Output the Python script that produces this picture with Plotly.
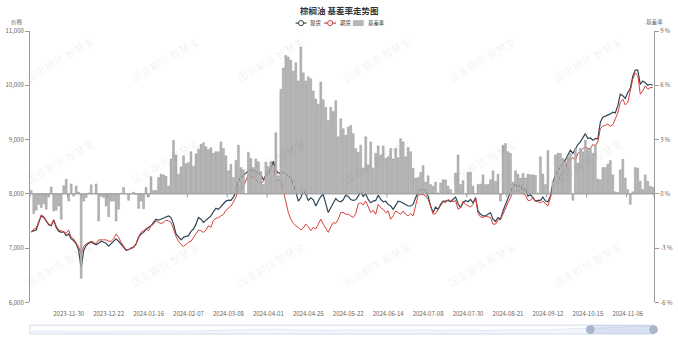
import pandas as pd
import plotly.graph_objects as go

# ---------------- data ----------------
# weekday exchange closures inside the period
closures = ["2024-01-01", "2024-02-09", "2024-02-12", "2024-02-13", "2024-02-14",
            "2024-02-15", "2024-02-16", "2024-04-04", "2024-04-05", "2024-05-01",
            "2024-05-02", "2024-05-03", "2024-06-10", "2024-09-16", "2024-09-17",
            "2024-10-01", "2024-10-02", "2024-10-03", "2024-10-04", "2024-10-07"]
dates = pd.bdate_range("2023-11-09", "2024-11-20", freq="C",
                       holidays=closures).strftime("%Y-%m-%d").tolist()

tick_labels = ["2023-11-30", "2023-12-22", "2024-01-16", "2024-02-07", "2024-03-08",
               "2024-04-01", "2024-04-25", "2024-05-22", "2024-06-14", "2024-07-08",
               "2024-07-30", "2024-08-21", "2024-09-12", "2024-10-15", "2024-11-06"]

# 现货 (spot price)
spot = [
    7303, 7321, 7333, 7473, 7594, 7564, 7490, 7430, 7412, 7515,
    7382, 7309, 7290, 7303, 7230, 7261, 7170, 7140, 7079, 6958,
    6624, 6958, 7048, 7091, 7109, 7079, 7061, 7091, 7127, 7109,
    7091, 7036, 7079, 7127, 7170, 7127, 7079, 7018, 6958, 6970,
    7000, 7018, 7079, 7200, 7261, 7290, 7352, 7382, 7412, 7473,
    7533, 7515, 7533, 7564, 7576, 7594, 7564, 7442, 7261, 7200,
    7152, 7200, 7212, 7230, 7309, 7352, 7442, 7564, 7533, 7473,
    7515, 7564, 7594, 7673, 7733, 7715, 7776, 7818, 7867, 7885,
    7879, 7939, 8048, 8230, 8303, 8352, 8382, 8424, 8442, 8436,
    8412, 8382, 8352, 8261, 8352, 8424, 8461, 8600, 8442, 8382,
    8382, 8400, 8364, 8339, 8291, 8170, 8036, 7867, 7927, 8061,
    7988, 7879, 7927, 7891, 7776, 7867, 7952, 7988, 7818, 7655,
    7745, 7836, 7915, 7867, 7855, 7891, 7976, 7952, 7897, 7879,
    7891, 7958, 8036, 7952, 8000, 7897, 7836, 7867, 7879, 7976,
    7897, 7855, 7867, 7806, 7776, 7715, 7806, 7867, 7855, 7830,
    7806, 7776, 7776, 7806, 7927, 8036, 8079, 8079, 8048, 7958,
    7776, 7655, 7758, 7715, 7806, 7867, 7867, 7879, 7855, 7897,
    7939, 7818, 7745, 7836, 7879, 7855, 7897, 7836, 7927, 7685,
    7624, 7594, 7594, 7624, 7655, 7533, 7491, 7564, 7533, 7685,
    7806, 7939, 8036, 8139, 8182, 8109, 8170, 8036, 8109, 7958,
    7988, 7927, 7867, 7879, 7879, 7939, 7867, 7855, 7958, 8200,
    8352, 8424, 8503, 8564, 8624, 8715, 8806, 8745, 8836, 8909,
    8958, 9048, 9109, 9018, 9030, 8988, 9018, 9018, 9321, 9412,
    9430, 9455, 9473, 9503, 9491, 9624, 9836, 9806, 9758, 9867,
    9939, 10170, 10279, 10279, 10018, 10079, 10048, 10000, 10018, 10000,
]

# 期货 (futures price)
futures = [
    7290, 7350, 7370, 7485, 7612, 7582, 7503, 7442, 7424, 7527,
    7412, 7333, 7321, 7303, 7273, 7333, 7200, 7170, 7091, 7018,
    6897, 7030, 7079, 7109, 7127, 7109, 7079, 7152, 7158, 7152,
    7152, 7127, 7127, 7170, 7261, 7200, 7109, 7048, 6970, 6976,
    7000, 7006, 7079, 7212, 7290, 7321, 7352, 7321, 7412, 7442,
    7503, 7473, 7455, 7473, 7515, 7503, 7473, 7352, 7212, 7127,
    7067, 7030, 7067, 7109, 7127, 7200, 7261, 7333, 7321, 7290,
    7333, 7412, 7382, 7515, 7552, 7564, 7594, 7624, 7697, 7745,
    7776, 7848, 7939, 8100, 8079, 8139, 8230, 8352, 8303, 8321,
    8279, 8218, 8182, 8230, 8339, 8339, 8500, 8560, 8250, 8242,
    8255, 8048, 7806, 7655, 7533, 7455, 7412, 7382, 7333, 7370,
    7442, 7394, 7321, 7382, 7352, 7430, 7533, 7442, 7352, 7290,
    7394, 7473, 7455, 7533, 7655, 7655, 7624, 7624, 7594, 7564,
    7636, 7818, 7836, 7794, 7867, 7745, 7655, 7697, 7624, 7806,
    7745, 7715, 7655, 7685, 7533, 7594, 7685, 7655, 7624, 7685,
    7624, 7594, 7636, 7594, 7776, 7976, 7988, 7988, 7958, 7897,
    7776, 7624, 7636, 7715, 7794, 7855, 7836, 7897, 7867, 7855,
    7879, 7715, 7745, 7867, 7806, 7776, 7758, 7806, 7939, 7636,
    7576, 7564, 7594, 7576, 7564, 7442, 7442, 7515, 7533, 7624,
    7745, 7836, 7927, 8048, 8036, 8079, 8036, 8000, 7976, 7879,
    7879, 7939, 7867, 7855, 7836, 7867, 7818, 7776, 7927, 8139,
    8182, 8230, 8321, 8400, 8442, 8624, 8624, 8667, 8624, 8745,
    8776, 8836, 8867, 8836, 8836, 8909, 8885, 8958, 9200, 9248,
    9261, 9285, 9248, 9273, 9382, 9491, 9685, 9745, 9636, 9685,
    9897, 10109, 10230, 10182, 9836, 9897, 9988, 9927, 9958, 9958,
]

# 基差率 (basis rate, %)
basis = [
    0.18, -1.09, -0.90, -0.58, -0.76, -0.55, -0.85, -0.18, 0.38, -0.95,
    -0.90, -0.67, -1.40, 0.45, 0.80, -0.40, 0.55, -0.13, 0.44, 0.10,
    -4.67, -0.40, -0.20, 0.05, 0.50, 0.00, 0.55, -1.50, -0.13, -0.20,
    -0.67, -1.27, -0.40, -0.40, -1.50, -0.85, 0.04, 0.36, 0.00, -0.36,
    0.00, 0.10, -0.04, -0.80, -0.40, -0.82, 0.36, -0.18, 0.95, 0.18,
    0.18, 0.90, 1.09, 1.05, 0.96, 0.44, 1.93, 2.95, 2.15, 1.09,
    1.50, 2.10, 1.67, 1.73, 2.33, 1.53, 2.22, 2.47, 2.73, 2.82,
    2.60, 2.45, 2.55, 2.24, 2.33, 2.33, 2.87, 2.50, 2.10, 1.27,
    1.64, 0.90, 1.85, 2.69, 1.45, 1.33, 0.00, 2.29, 1.96, 1.45,
    1.93, 1.78, 1.24, 0.51, 1.75, 1.51, 1.78, 1.60, 3.38, 1.00,
    5.78, 6.96, 7.64, 7.56, 7.38, 6.78, 7.24, 6.24, 8.11, 6.69,
    6.24, 6.47, 6.36, 5.69, 5.24, 4.96, 6.18, 5.20, 4.78, 4.05,
    4.78, 4.55, 5.15, 3.15, 4.15, 3.60, 3.24, 3.69, 3.78, 3.33,
    2.51, 2.29, 2.69, 1.42, 3.15, 1.60, 2.87, 1.42, 2.24, 2.65,
    2.15, 2.65, 1.96, 2.05, 2.51, 1.93, 2.51, 2.00, 3.05, 2.87,
    2.05, 2.55, 2.33, 1.42, 0.87, 0.91, 1.18, 1.56, 0.65, 1.00,
    0.51, 0.42, 0.65, 0.05, 0.60, 0.78, 0.78, 0.42, 0.24, 0.00,
    1.15, 2.15, 0.51, 0.73, 0.00, 1.20, 1.20, 0.42, 0.02, 0.51,
    0.55, 1.05, 0.51, 0.51, 0.78, 1.27, 0.69, 1.09, -0.40, 2.69,
    2.78, 2.33, 2.24, 0.65, 1.27, 1.09, 0.87, 1.13, 0.87, 1.09,
    1.05, 1.05, 1.02, 0.05, 2.05, 1.09, 0.51, 2.40, 0.05, 0.69,
    2.15, 2.24, 2.24, 1.96, 1.78, 2.05, 2.24, -0.36, 2.51, 1.69,
    2.51, 2.33, 2.96, 2.51, 2.51, 2.24, 2.69, 0.82, 0.78, 1.45,
    1.45, 1.64, 1.84, 1.05, 0.11, 0.07, 1.33, 1.91, 0.87, 0.24,
    -0.58, 0.11, 1.45, 1.42, 0.69, 0.24, 1.05, 0.69, 0.42, 0.36,
]

# ---------------- geometry helpers ----------------
W, H = 678, 343
ML, MR, MT, MB = 26, 20, 31, 5
PW, PH = W - ML - MR, H - MT - MB


def px(x):
    return (x - ML) / PW


def py(y):
    return (H - MB - y) / PH


FONT = "Noto Sans CJK SC, sans-serif"
SPOT_C = "#2f4554"
FUT_C = "#d8403a"
BAR_C = "#b6b6b6"
AXIS_C = "#9a9a9a"
TXT_C = "#666666"

n = len(dates)

fig = go.Figure()

fig.add_trace(go.Bar(
    x=dates, y=basis, yaxis="y2", name="基差率",
    marker=dict(color=BAR_C, line=dict(color="#8e8e8e", width=0.4)),
))
fig.add_trace(go.Scatter(
    x=dates, y=spot, mode="lines", name="现货",
    line=dict(color=SPOT_C, width=1.2),
))
fig.add_trace(go.Scatter(
    x=dates, y=futures, mode="lines", name="期货",
    line=dict(color=FUT_C, width=1.0),
))
# data shadow inside the zoom slider
fig.add_trace(go.Scatter(
    x=list(range(n)), y=spot, mode="lines", xaxis="x3", yaxis="y3",
    line=dict(color="#d2dbee", width=0.6), fill="tozeroy",
    fillcolor="rgba(210,219,238,0.25)",
))

main_dom = [py(306), 1.0]

fig.update_layout(
    width=W, height=H,
    margin=dict(l=ML, r=MR, t=MT, b=MB),
    paper_bgcolor="white", plot_bgcolor="rgba(0,0,0,0)",
    showlegend=False, hovermode=False,
    font=dict(family=FONT, size=6, color=TXT_C),
    bargap=0.22,
    xaxis=dict(
        type="category", range=[-0.5, n - 0.5], anchor="y",
        tickmode="array", tickvals=tick_labels, ticktext=tick_labels,
        tickangle=0, ticks="outside", ticklen=5, tickcolor="rgba(0,0,0,0)",
        showline=False, showgrid=False, zeroline=False,
        tickfont=dict(size=6, color=TXT_C, family=FONT),
    ),
    yaxis=dict(
        domain=main_dom, range=[6000, 11000],
        tickmode="array", tickvals=[6000, 7000, 8000, 9000, 10000, 11000],
        tickformat=",d", showgrid=False, zeroline=False,
        showline=True, linecolor=AXIS_C, linewidth=1,
        ticks="outside", ticklen=4, tickcolor=AXIS_C,
        tickfont=dict(size=6, color=TXT_C, family=FONT),
    ),
    yaxis2=dict(
        overlaying="y", side="right", range=[-6, 9],
        tickmode="array", tickvals=[-6, -3, 0, 3, 6, 9],
        ticktext=["-6 %", "-3 %", "0 %", "3 %", "6 %", "9 %"],
        showgrid=False, zeroline=False,
        showline=True, linecolor=AXIS_C, linewidth=1,
        ticks="outside", ticklen=4, tickcolor=AXIS_C,
        tickfont=dict(size=6, color=TXT_C, family=FONT),
    ),
    xaxis3=dict(domain=[0, 1], anchor="y3", range=[-0.5, n - 0.5], visible=False),
    yaxis3=dict(domain=[0, py(329)], range=[5500, 11000], visible=False),
)

shapes = []
annotations = []

# category axis line on the zero level, with ticks under each label
shapes.append(dict(type="line", xref="paper", yref="y2", x0=0, x1=1, y0=0, y1=0,
                   line=dict(color=AXIS_C, width=1), layer="above"))
tick_pos = [-0.5] + [dates.index(t) - 0.5 for t in tick_labels] + [n - 0.5]
for tp in tick_pos:
    shapes.append(dict(type="line", xref="x", yref="paper", x0=tp, x1=tp,
                       y0=py(196), y1=py(199.5),
                       line=dict(color=AXIS_C, width=1), layer="above"))

# zoom slider frame, selected window and handles
shapes.append(dict(type="rect", xref="paper", yref="paper", x0=0, x1=1,
                   y0=py(338), y1=py(329), line=dict(color="#d2dbee", width=1),
                   fillcolor="rgba(0,0,0,0)"))
shapes.append(dict(type="rect", xref="paper", yref="paper", x0=px(593), x1=px(657),
                   y0=py(338), y1=py(329), line=dict(width=0),
                   fillcolor="rgba(135,165,214,0.25)"))
for hx in (593.5, 657.5):
    shapes.append(dict(type="circle", xref="paper", yref="paper",
                       x0=px(hx - 4), x1=px(hx + 4), y0=py(337.5), y1=py(329.5),
                       fillcolor="#a9b8cf", line=dict(color="#97a8c2", width=0.6)))

# legend
ly = 23
LEG_FS = 5.4
legend_items = [("现货", SPOT_C, 295, 306, 308), ("期货", FUT_C, 324, 336, 337.5)]
for label, col, xa, xb, xt in legend_items:
    shapes.append(dict(type="line", xref="paper", yref="paper", x0=px(xa), x1=px(xb),
                       y0=py(ly), y1=py(ly), line=dict(color=col, width=1.2)))
    cx = (xa + xb) / 2
    shapes.append(dict(type="circle", xref="paper", yref="paper",
                       x0=px(cx - 2.6), x1=px(cx + 2.6), y0=py(ly + 2.6), y1=py(ly - 2.6),
                       fillcolor="white", line=dict(color=col, width=1)))
    annotations.append(dict(text=label, xref="paper", yref="paper", x=px(xt), y=py(ly),
                            xanchor="left", yanchor="middle", showarrow=False,
                            font=dict(size=LEG_FS, color="#333333", family=FONT)))
shapes.append(dict(type="rect", xref="paper", yref="paper", x0=px(353), x1=px(364),
                   y0=py(26), y1=py(20), fillcolor=BAR_C, line=dict(width=0)))
annotations.append(dict(text="基差率", xref="paper", yref="paper", x=px(366), y=py(ly),
                        xanchor="left", yanchor="middle", showarrow=False,
                        font=dict(size=LEG_FS, color="#333333", family=FONT)))

# title and axis names
annotations.append(dict(text="<b>棕榈油 基差率走势图</b>", xref="paper", yref="paper",
                        x=px(339), y=py(10), xanchor="center", yanchor="middle",
                        showarrow=False, font=dict(size=8.5, color="#333333", family=FONT)))
annotations.append(dict(text="价格", xref="paper", yref="paper", x=px(13), y=py(21.5),
                        xanchor="center", yanchor="middle", showarrow=False,
                        font=dict(size=5.6, color=TXT_C, family=FONT)))
annotations.append(dict(text="基差率", xref="paper", yref="paper", x=px(659), y=py(21.5),
                        xanchor="center", yanchor="middle", showarrow=False,
                        font=dict(size=5.6, color=TXT_C, family=FONT)))

# repeated watermark
for cx in [56 + 107 * k for k in range(6)]:
    for cy in (60, 163, 268):
        annotations.append(dict(text="国金期货 智慧宝", xref="paper", yref="paper",
                                x=px(cx), y=py(cy), xanchor="center", yanchor="middle",
                                textangle=-30, showarrow=False,
                                font=dict(size=10.5, color="rgba(0,0,0,0.075)", family=FONT)))

fig.update_layout(shapes=shapes, annotations=annotations)
fig.write_html("out.html")
